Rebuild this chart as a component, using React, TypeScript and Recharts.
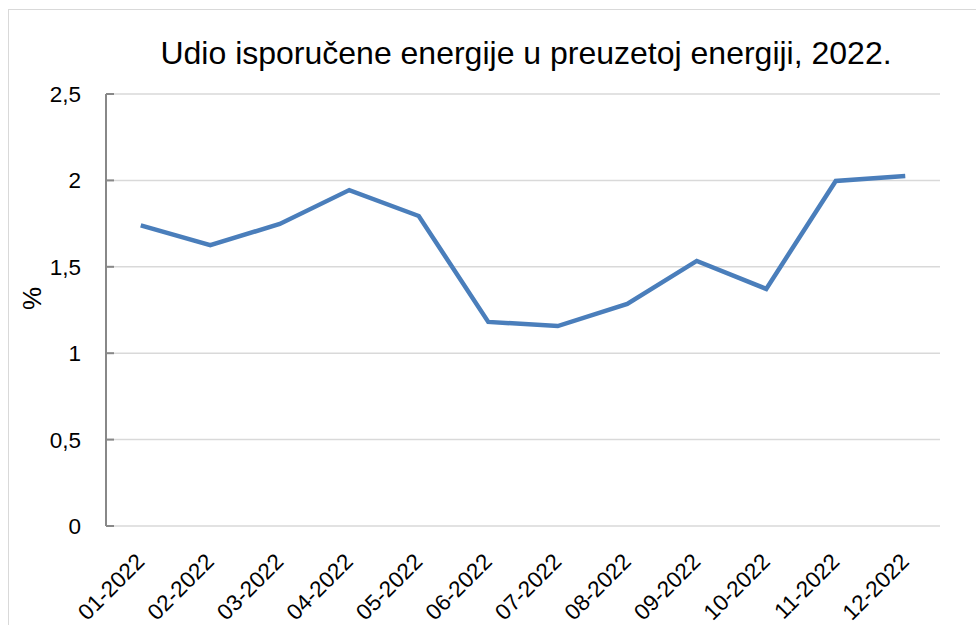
import { CartesianGrid, Line, LineChart, XAxis, YAxis } from "recharts"

const months = ["01-2022", "02-2022", "03-2022", "04-2022", "05-2022", "06-2022", "07-2022", "08-2022", "09-2022", "10-2022", "11-2022", "12-2022"]
const share = [1.74, 1.625, 1.748, 1.944, 1.794, 1.181, 1.157, 1.285, 1.534, 1.372, 1.997, 2.025]
const yTicks = [0, 0.5, 1, 1.5, 2, 2.5]
const boundaryTicks = [0, 1, 2, 3, 4, 5, 6, 7, 8, 9, 10, 11, 12]

const data = months.map((m, i) => ({ month: m, value: share[i], idx: i + 0.5 }))

const FONT = '"Liberation Sans", Arial, sans-serif'

function MonthTick(props: any) {
  const { x, y, payload } = props
  const ax = x + 5
  const ay = y + 29
  return (
    <text x={ax} y={ay} transform={`rotate(-45, ${ax}, ${ay})`} textAnchor="end" fill="#000" fontSize={22.5} fontFamily={FONT}>
      {payload.value}
    </text>
  )
}

export default function App() {
  return (
    <div style={{ position: "absolute", left: 0, top: 0, width: 976, height: 625, overflow: "hidden", background: "#fff" }}>
      <div style={{ position: "absolute", left: 8, top: 9, width: 1100, height: 800, border: "1px solid #d9d9d9" }} />
      <div
        style={{ position: "absolute", left: 0, top: 35, width: 1052, textAlign: "center", fontFamily: FONT, fontSize: 32, lineHeight: "37px", color: "#000", whiteSpace: "nowrap" }}
      >
        Udio isporučene energije u preuzetoj energiji, 2022.
      </div>
      <div style={{ position: "absolute", left: 0, top: 0 }}>
        <LineChart width={976} height={625} data={data} margin={{ top: 94, right: 36, left: 0, bottom: 0 }}>
          <CartesianGrid vertical={false} stroke="#d9d9d9" strokeWidth={1.5} />
          <XAxis
            xAxisId="ticks"
            type="number"
            dataKey="idx"
            domain={[0, 12]}
            ticks={boundaryTicks}
            allowDataOverflow
            height={0}
            tick={{ fill: "none" }}
            tickSize={8}
            tickLine={{ stroke: "#888", strokeWidth: 2 }}
            axisLine={{ stroke: "#888", strokeWidth: 2 }}
          />
          <XAxis
            dataKey="month"
            scale="band"
            height={99}
            interval={0}
            tick={<MonthTick />}
            tickLine={false}
            axisLine={false}
          />
          <XAxis xAxisId="top" orientation="top" dataKey="month" height={0} tick={false} tickLine={false} axisLine={{ stroke: "#a6a6a6", strokeWidth: 2 }} />
          <YAxis
            domain={[0, 2.5]}
            ticks={yTicks}
            width={106}
            tickFormatter={(v: number) => String(v).replace(".", ",")}
            tick={{ fill: "#000", fontSize: 22.5, fontFamily: FONT }}
            tickSize={-8}
            tickMargin={33}
            tickLine={{ stroke: "#888", strokeWidth: 2 }}
            axisLine={{ stroke: "#888", strokeWidth: 2 }}
            label={{ value: "%", angle: -90, position: "insideLeft", offset: 32, fill: "#000", fontSize: 26, fontFamily: FONT }}
          />
          <YAxis yAxisId="right" orientation="right" width={0} domain={[0, 2.5]} tick={false} tickLine={false} axisLine={{ stroke: "#a6a6a6", strokeWidth: 2 }} />
          <Line xAxisId="ticks" dataKey="value" stroke="none" dot={false} isAnimationActive={false} legendType="none" />
          <Line type="linear" dataKey="value" stroke="#4a7ebb" strokeWidth={4.5} dot={false} isAnimationActive={false} />
        </LineChart>
      </div>
    </div>
  )
}
